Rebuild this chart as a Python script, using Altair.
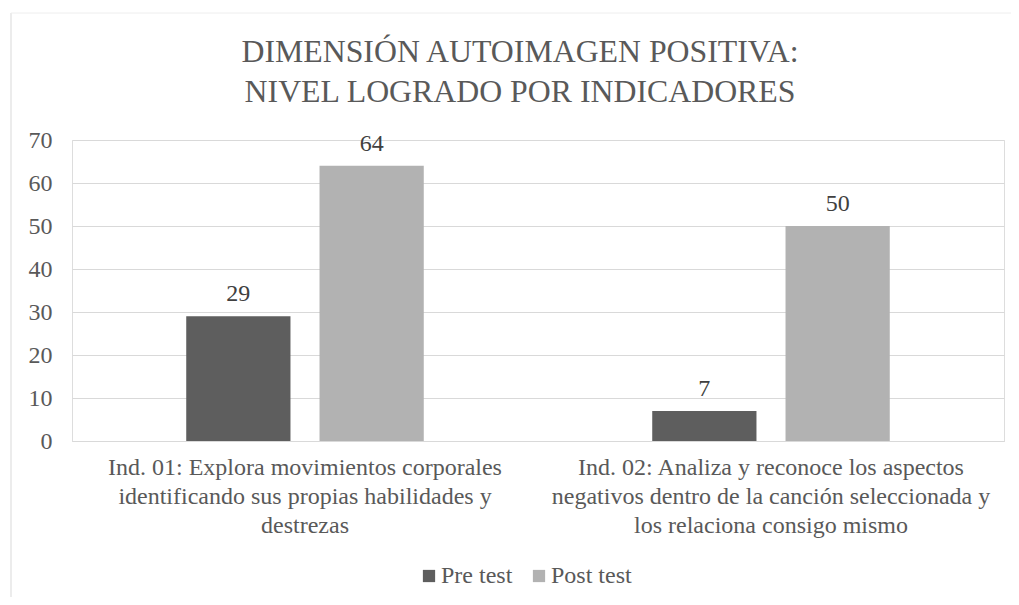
import altair as alt
import pandas as pd

categories = [
    "Ind. 01: Explora movimientos corporales|identificando sus propias habilidades y|destrezas",
    "Ind. 02: Analiza y reconoce los aspectos|negativos dentro de la canción seleccionada y|los relaciona consigo mismo",
]
series = ["Pre test", "Post test"]
pre_values = [29, 7]
post_values = [64, 50]
y_ticks = [0, 10, 20, 30, 40, 50, 60, 70]
title_lines = ["DIMENSIÓN AUTOIMAGEN POSITIVA:", "NIVEL LOGRADO POR INDICADORES"]

rows = []
for i, c in enumerate(categories):
    rows.append({"cat": c, "serie": series[0], "value": pre_values[i]})
    rows.append({"cat": c, "serie": series[1], "value": post_values[i]})
df = pd.DataFrame(rows)

FONT = "Liberation Serif, Times New Roman, serif"
TXT = "#595959"
GRID = "#d9d9d9"
FS = 24

base = alt.Chart(df).encode(
    x=alt.X(
        "cat:N",
        sort=categories,
        scale=alt.Scale(paddingInner=0, paddingOuter=0),
        axis=alt.Axis(
            title=None,
            labelAngle=0,
            labelExpr="split(datum.label, '|')",
            labelFont=FONT,
            labelFontSize=FS,
            labelColor=TXT,
            labelLineHeight=29,
            labelPadding=14,
            labelLimit=0,
            ticks=False,
            domainColor=GRID,
            domainWidth=1,
        ),
    ),
    xOffset=alt.XOffset(
        "serie:N",
        sort=series,
        scale=alt.Scale(paddingInner=0.218, paddingOuter=0.857),
    ),
    y=alt.Y(
        "value:Q",
        scale=alt.Scale(domain=[0, 70], nice=False),
        axis=alt.Axis(
            title=None,
            values=y_ticks,
            labelFont=FONT,
            labelFontSize=FS,
            labelColor=TXT,
            labelPadding=20,
            ticks=False,
            domain=False,
            gridColor=GRID,
            gridWidth=1,
        ),
    ),
)

bars = base.mark_bar().encode(
    color=alt.Color(
        "serie:N",
        sort=series,
        scale=alt.Scale(domain=series, range=["#5e5e5e", "#b2b2b2"]),
        legend=alt.Legend(
            title=None,
            orient="none",
            legendX=345,
            legendY=424,
            direction="horizontal",
            symbolType="square",
            symbolSize=150,
            symbolStrokeWidth=0,
            labelFont=FONT,
            labelFontSize=FS,
            labelColor=TXT,
            labelOffset=0,
            columnPadding=14,
        ),
    )
)

labels = base.mark_text(
    baseline="bottom", dy=-10, font=FONT, fontSize=FS
).encode(text="value:Q", color=alt.value("#404040"))

border = alt.Chart(alt.Data(values=[{}])).mark_rule(color=GRID, strokeWidth=1).encode(
    x=alt.value(-61), y=alt.value(-127), y2=alt.value(470)
)
border_top = alt.Chart(alt.Data(values=[{}])).mark_rule(color="#eeeeee", strokeWidth=1).encode(
    x=alt.value(-61), x2=alt.value(960), y=alt.value(-127)
)

chart = (
    alt.layer(border, border_top, bars, labels)
    .properties(
        width=932,
        height=301,
        autosize=alt.AutoSizeParams(type="none"),
        padding={"left": 64, "top": 132, "right": 7, "bottom": 156},
        title=alt.TitleParams(
            text=title_lines,
            font=FONT,
            fontSize=31.8,
            fontWeight="normal",
            color=TXT,
            anchor="middle",
            lineHeight=40,
            offset=-96,
            dx=-18,
        ),
    )
    .configure_view(stroke=None)
    .configure(background="white")
)

chart.save("out.html", embed_options={"renderer": "svg", "actions": False})
